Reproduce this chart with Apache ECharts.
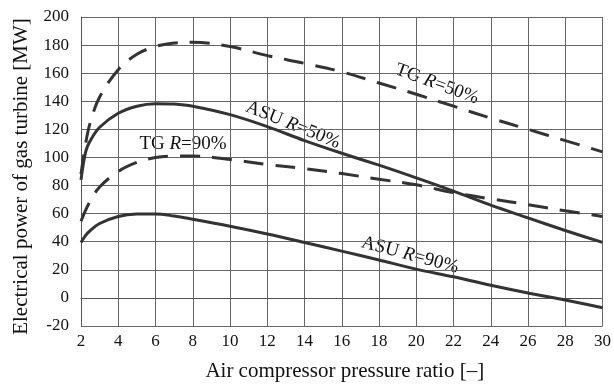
<!DOCTYPE html>
<html>
<head>
<meta charset="utf-8">
<script src="https://cdn.jsdelivr.net/npm/echarts@6/dist/echarts.min.js"></script>
<style>
  html, body { margin: 0; padding: 0; background: #fff; }
  #chart { width: 614px; height: 387px; }
</style>
</head>
<body>
<div id="chart"></div>
<script>
const ratios = [2, 2.25, 2.5, 3, 4, 5, 6, 7, 8, 10, 12, 14, 16, 18, 20, 22, 24, 26, 28, 30];
const tg50 = [88, 110, 125, 143, 162.5, 173.5, 179, 181.5, 182, 179, 172.5, 167, 161, 153, 145, 136.5, 128, 120, 112, 104];
const asu50 = [84, 104, 112, 121.5, 131.5, 136.5, 138.3, 138, 136.5, 130.5, 122, 112, 103, 94.5, 85.5, 76, 66, 57, 48, 39.5];
const tg90 = [54.6, 62.5, 69, 79, 90, 96.5, 100, 101, 101, 98.5, 95, 92, 88.5, 84.5, 80.5, 75, 70.5, 66.4, 62, 58];
const asu90 = [39.5, 44.5, 48, 53, 58, 59.7, 59.8, 58.3, 56, 51, 45.5, 39.5, 33.3, 27, 20.5, 15, 9, 3.5, -1.5, -7];

const font = "'Liberation Serif', 'DejaVu Serif', serif";
const ink = '#333';

function pairs(values) {
  return ratios.map((x, i) => [x, values[i]]);
}

function curve(name, values, dashed) {
  return {
    name,
    type: 'line',
    data: pairs(values),
    smooth: 0.35,
    showSymbol: false,
    lineStyle: {
      color: ink,
      width: 3,
      type: dashed ? [20, 12] : 'solid'
    }
  };
}

function note(text, x, y, deg) {
  return {
    type: 'text',
    x, y,
    rotation: -deg * Math.PI / 180,
    style: {
      text,
      font: '19px ' + font,
      fill: '#111',
      align: 'center',
      verticalAlign: 'middle',
      rich: { i: { fontStyle: 'italic', fontSize: 19, fontFamily: font } }
    }
  };
}

const chart = echarts.init(document.getElementById('chart'));
chart.setOption({
  animation: false,
  grid: { left: 81, right: 9, top: 17, bottom: 60 },
  xAxis: {
    type: 'value',
    min: 2, max: 30, interval: 2,
    name: 'Air compressor pressure ratio [\u2013]',
    nameLocation: 'middle',
    nameGap: 35,
    nameTextStyle: { fontFamily: font, fontSize: 21, color: '#111', padding: [0, 0, 0, 6] },
    axisLine: { lineStyle: { color: '#555', width: 1 } },
    axisTick: { show: false },
    axisLabel: { fontFamily: font, fontSize: 17, color: '#111', margin: 7 },
    splitLine: { show: true, lineStyle: { color: '#666', width: 1 } }
  },
  yAxis: {
    type: 'value',
    min: -20, max: 200, interval: 20,
    name: 'Electrical power of gas turbine [MW]',
    nameLocation: 'middle',
    nameGap: 49,
    nameTextStyle: { fontFamily: font, fontSize: 21, color: '#111', padding: [0, 10, 0, 0] },
    axisLine: { show: true, lineStyle: { color: '#555', width: 1 } },
    axisTick: { show: false },
    axisLabel: { fontFamily: font, fontSize: 17, color: '#111', margin: 12 },
    splitLine: { show: true, lineStyle: { color: '#666', width: 1 } }
  },
  series: [
    curve('TG R=50%', tg50, true),
    curve('ASU R=50%', asu50, false),
    curve('TG R=90%', tg90, true),
    curve('ASU R=90%', asu90, false)
  ],
  graphic: [
    note('TG {i|R}=50%', 437, 84, 20),
    note('ASU {i|R}=50%', 293, 125, 22),
    note('TG {i|R}=90%', 183, 144, 0),
    note('ASU {i|R}=90%', 410, 255, 15)
  ]
});
</script>
</body>
</html>
